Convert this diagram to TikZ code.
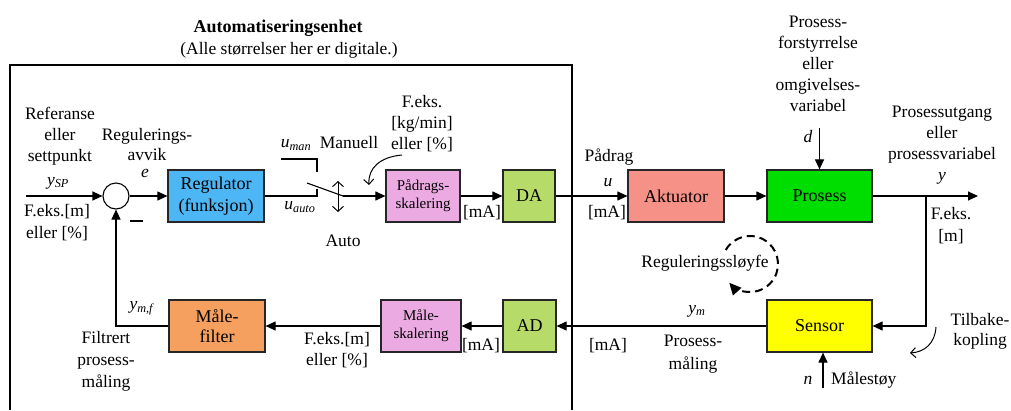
\documentclass[tikz,border=0pt]{standalone}
\usepackage{fontspec}
\setmainfont{Liberation Serif}
\usetikzlibrary{arrows.meta}

\definecolor{regblue}{RGB}{77,182,245}
\definecolor{scalepink}{RGB}{236,170,226}
\definecolor{convgreen}{RGB}{183,219,104}
\definecolor{actsalmon}{RGB}{246,145,136}
\definecolor{procgreen}{RGB}{0,222,0}
\definecolor{sensyellow}{RGB}{255,255,0}
\definecolor{filtorange}{RGB}{246,160,96}

% italic signal name with italic subscript
\newcommand\sgn[2]{\textit{#1}\textsubscript{\textit{#2}}}

\begin{document}
\begin{tikzpicture}[x=1pt,y=-1pt,
  every node/.style={font=\fontsize{17.5}{21}\selectfont, inner sep=0pt},
  block/.style={draw=black!85, line width=1.2pt, minimum height=52pt, align=center,
                font=\fontsize{18}{22}\selectfont},
  smallblock/.style={block, font=\fontsize{15}{18}\selectfont},
  sig/.style={line width=1.1pt},
  arr/.style={sig, -{Triangle[length=10pt,width=9pt]}},
  barb/.style={line width=1pt, -{Straight Barb[length=5pt,width=10pt]}},
  lbl/.style={align=center},
]
\useasboundingbox (0,0) rectangle (1011,410);

% ---- automation unit frame ----
\node[font=\bfseries\fontsize{18}{21}\selectfont] (title) at (278,28) {Automatiseringsenhet};
\node (subtitle) at (289,50) {(Alle størrelser her er digitale.)};
\draw[line width=1.1pt] (10,410) -- (10,65) -- (572,65) -- (572,410);

% ---- blocks ----
\node[circle, draw, line width=1.1pt, minimum size=26pt] (sum) at (116,196) {};
\node[block, fill=regblue, minimum width=96pt] (reg) at (216,196) {Regulator\\(funksjon)};
\node[smallblock, fill=scalepink, minimum width=74pt] (pds) at (423,196) {Pådrags-\\skalering};
\node[block, fill=convgreen, minimum width=52pt] (da) at (529,196) {DA};
\node[block, fill=actsalmon, minimum width=96pt] (act) at (676,196) {Aktuator};
\node[block, fill=procgreen, minimum width=105pt] (proc) at (819.5,196) {Prosess};
\node[block, fill=sensyellow, minimum width=105pt] (sens) at (819.5,326) {Sensor};
\node[block, fill=convgreen, minimum width=53pt] (ad) at (529.5,326) {AD};
\node[smallblock, fill=scalepink, minimum width=80pt] (msk) at (421,326) {Måle-\\skalering};
\node[block, fill=filtorange, minimum width=96pt, font=\fontsize{18}{20}\selectfont] (mf) at (217,326) {Måle-\\filter};

% ---- forward path ----
\coordinate (ysp) at (26,196);
\draw[arr] (ysp) -- (sum);
\draw[arr] (sum) -- (reg);
\node (minus) at (136.5,221) {\rule{13pt}{1.1pt}};

% manual / auto switch
\coordinate (swa) at (317,196);
\coordinate (swm0) at (281,159);
\coordinate (swm1) at (317,159);
\coordinate (bl0) at (307,183);
\coordinate (bl1) at (343,196);
\draw[sig] (reg) -- (swa) -- ++(0,-7);
\draw[sig] (swm0) -- (swm1) -- ++(0,13);
\draw[sig] (bl0) -- (bl1);
\draw[arr] (bl1) -- (pds);
\coordinate (sw0) at (338,181);
\coordinate (sw1) at (338,212);
\draw[line width=1pt, {Straight Barb[length=5pt,width=11pt]}-{Straight Barb[length=5pt,width=11pt]}] (sw0) -- (sw1);

\draw[arr] (pds) -- (da);
\draw[arr] (da) -- (act);
\draw[arr] (act) -- (proc);

% disturbance and output
\coordinate (dtop) at (819.5,128);
\draw[arr] (dtop) -- (proc);
\coordinate (yout) at (978,196);
\coordinate (br) at (926,196);
\draw[arr] (proc) -- (yout);
\draw[arr] (br) |- (sens);

% ---- feedback path ----
\coordinate (nb) at (823,388);
\draw[arr] (nb) -- (nb |- sens.south);
\draw[arr] (sens) -- (ad);
\draw[arr] (ad) -- (msk);
\draw[arr] (msk) -- (mf);
\coordinate (fb) at (116,326);
\draw[arr] (mf) -- (fb) -- (sum);

% ---- curved pointer arrows ----
\coordinate (p0) at (402,155);
\coordinate (p1) at (369,185);
\draw[barb] (p0) .. controls (380,157) and (368,168) .. (p1);
\coordinate (t0) at (936,327);
\coordinate (t1) at (910,353);
\draw[barb] (t0) .. controls (935,343) and (925,352) .. (t1);

% control loop symbol
\coordinate (loopc) at (750,264);
\draw[line width=2pt, dash pattern=on 8pt off 5pt, -{Triangle[length=12pt,width=11pt]}]
  (loopc) ++(-150:28) arc[start angle=-150, end angle=138, radius=28];
\node (loop) at (705,263) {Reguleringssløyfe};

% ---- labels ----
\node[lbl] (ref) at (60,136) {Referanse\\eller\\settpunkt};
\node (lysp) at (58,183) {\sgn{y}{SP}};
\node[lbl, font=\fontsize{17.5}{22}\selectfont] (refunit) at (57,223) {F.eks.[m]\\eller [\%]};
\node[lbl, font=\fontsize{17.5}{20}\selectfont] (err) at (147,145) {Regulerings-\\avvik};
\node (le) at (145,173) {\textit{e}};
\node (lman) at (296,145) {\sgn{u}{man}};
\node (manuell) at (349,143) {Manuell};
\node (lauto) at (300,207) {\sgn{u}{auto}};
\node (auto) at (343,241) {Auto};
\node[lbl] (uunit) at (422,124) {F.eks.\\{}[kg/min]\\eller [\%]};
\node (ma1) at (482,213) {[mA]};
\node (padrag) at (609,157) {Pådrag};
\node (lu) at (608,183) {\textit{u}};
\node (ma2) at (607,213) {[mA]};
\node[lbl] (dist) at (818,63.5) {Prosess-\\forstyrrelse\\eller\\omgivelses-\\variabel};
\node (ld) at (808,137) {\textit{d}};
\node[lbl] (yout-l) at (942,135) {Prosessutgang\\eller\\prosessvariabel};
\node (ly) at (942,178) {\textit{y}};
\node[lbl, font=\fontsize{17.5}{22}\selectfont] (yunit) at (951,226) {F.eks.\\{}[m]};
\node[lbl, font=\fontsize{17.5}{20}\selectfont] (tilb) at (980,331) {Tilbake-\\kopling};
\node (lym) at (697,311) {\sgn{y}{m}};
\node (ma3) at (608,346) {[mA]};
\node[lbl, font=\fontsize{17.5}{23}\selectfont] (pmal) at (693,354.5) {Prosess-\\måling};
\node (ln) at (808,380) {\textit{n}};
\node[anchor=west] (noise) at (831,380) {Målestøy};
\node (ma4) at (481,346) {[mA]};
\node[lbl] (mfunit) at (337,350.5) {F.eks.[m]\\eller [\%]};
\node (lymf) at (142,308) {\sgn{y}{m,f}};
\node[lbl, font=\fontsize{17.5}{22}\selectfont] (filt) at (106,361) {Filtrert\\prosess-\\måling};
\end{tikzpicture}
\end{document}
